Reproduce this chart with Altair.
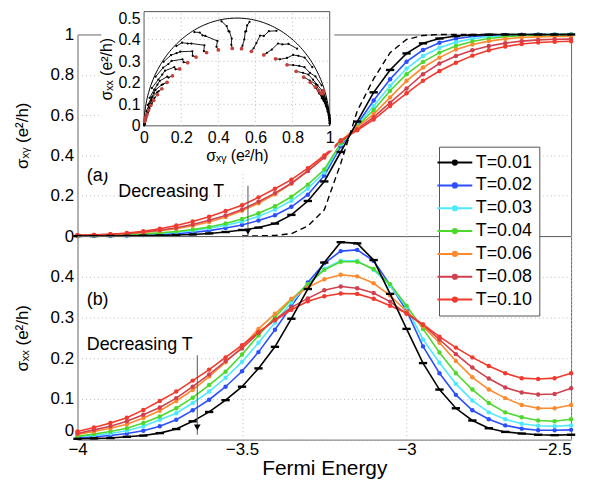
import altair as alt
import numpy as np
import pandas as pd

# ---------------- data ----------------
E = [-4.0, -3.95, -3.9, -3.85, -3.8, -3.75, -3.7, -3.65, -3.6, -3.55, -3.5,
     -3.45, -3.4, -3.35, -3.3, -3.25, -3.2, -3.15, -3.1, -3.05, -3.0,
     -2.95, -2.9, -2.85, -2.8, -2.75, -2.7, -2.65, -2.6, -2.55, -2.5]

T_LABELS = ["T=0.01", "T=0.02", "T=0.03", "T=0.04", "T=0.06", "T=0.08", "T=0.10"]
COLORS = ["#000000", "#2B4FFF", "#4FE9FF", "#4CD92B", "#FF8A2E", "#D0404E", "#F2392E"]

# sigma_xy (panel a)
SXY_001 = [0.0, 0.0, 0.0005, 0.001, 0.002, 0.003, 0.005, 0.008, 0.013, 0.02, 0.03, 0.042, 0.062, 0.105, 0.174, 0.271, 0.417,
           0.568, 0.713, 0.824, 0.906, 0.956, 0.98, 0.992, 0.997, 0.999, 1.0, 1.0, 1.0, 1.0, 1.0]
SXY_002 = [0.001, 0.001, 0.002, 0.003, 0.005, 0.008, 0.012, 0.018, 0.027, 0.04, 0.055, 0.077, 0.103, 0.145, 0.205, 0.30, 0.445,
           0.555, 0.672, 0.778, 0.865, 0.923, 0.959, 0.979, 0.99, 0.995, 0.998, 0.999, 1.0, 1.0, 1.0]
SXY_003 = [0.002, 0.003, 0.004, 0.006, 0.009, 0.013, 0.019, 0.027, 0.039, 0.053, 0.072, 0.098, 0.131, 0.175, 0.235, 0.315, 0.455,
           0.55, 0.645, 0.745, 0.831, 0.893, 0.934, 0.962, 0.979, 0.989, 0.994, 0.997, 0.999, 1.0, 1.0]
SXY_004 = [0.003, 0.004, 0.005, 0.008, 0.011, 0.016, 0.023, 0.032, 0.045, 0.062, 0.085, 0.113, 0.148, 0.195, 0.255, 0.33, 0.46,
           0.545, 0.625, 0.721, 0.803, 0.864, 0.91, 0.943, 0.965, 0.98, 0.989, 0.994, 0.997, 0.998, 0.999]
SXY_006 = [0.004, 0.006, 0.008, 0.012, 0.018, 0.026, 0.037, 0.051, 0.07, 0.095, 0.125, 0.163, 0.207, 0.26, 0.325, 0.395, 0.472,
           0.54, 0.605, 0.688, 0.77, 0.836, 0.885, 0.926, 0.95, 0.967, 0.978, 0.985, 0.988, 0.99, 0.99]
SXY_008 = [0.004, 0.006, 0.009, 0.013, 0.02, 0.029, 0.041, 0.057, 0.078, 0.102, 0.132, 0.17, 0.213, 0.262, 0.322, 0.39, 0.47,
           0.53, 0.59, 0.662, 0.732, 0.803, 0.856, 0.893, 0.922, 0.943, 0.957, 0.967, 0.973, 0.976, 0.977]
SXY_010 = [0.003, 0.005, 0.009, 0.015, 0.024, 0.036, 0.052, 0.072, 0.096, 0.124, 0.153, 0.192, 0.235, 0.28, 0.337, 0.40, 0.475,
           0.525, 0.578, 0.645, 0.708, 0.77, 0.819, 0.86, 0.895, 0.922, 0.94, 0.953, 0.96, 0.964, 0.966]

# dashed curve (panel a), from E=-3.5 on
E_DASH = E[10:]
SXY_DASH = [0.0, 0.001, 0.003, 0.012, 0.05, 0.13, 0.36, 0.62, 0.78, 0.91, 0.975, 0.995,
            1.0, 1.0, 1.0, 1.0, 1.0, 1.0, 1.0, 1.0, 1.0]

# sigma_xx (panel b)
SXX_001 = [0.002, 0.003, 0.004, 0.007, 0.010, 0.016, 0.026, 0.045, 0.068, 0.097, 0.130, 0.175, 0.228, 0.297, 0.370, 0.435,
           0.485, 0.482, 0.441, 0.358, 0.272, 0.188, 0.123, 0.077, 0.047, 0.028, 0.019, 0.015, 0.012, 0.011, 0.012]
SXX_002 = [0.004, 0.007, 0.010, 0.015, 0.022, 0.033, 0.049, 0.072, 0.098, 0.130, 0.168, 0.215, 0.270, 0.328, 0.386, 0.433,
           0.463, 0.466, 0.439, 0.380, 0.317, 0.229, 0.163, 0.110, 0.072, 0.050, 0.035, 0.027, 0.023, 0.023, 0.024]
SXX_003 = [0.007, 0.011, 0.015, 0.022, 0.033, 0.049, 0.065, 0.090, 0.118, 0.152, 0.191, 0.238, 0.287, 0.337, 0.382, 0.420,
           0.439, 0.439, 0.417, 0.378, 0.325, 0.246, 0.189, 0.137, 0.096, 0.067, 0.050, 0.039, 0.034, 0.033, 0.035]
SXX_004 = [0.008, 0.014, 0.020, 0.028, 0.041, 0.057, 0.077, 0.103, 0.134, 0.167, 0.209, 0.256, 0.301, 0.344, 0.382, 0.417,
           0.437, 0.437, 0.419, 0.382, 0.329, 0.272, 0.214, 0.163, 0.123, 0.090, 0.067, 0.055, 0.047, 0.045, 0.050]
SXX_006 = [0.013, 0.020, 0.028, 0.038, 0.053, 0.071, 0.095, 0.122, 0.155, 0.190, 0.228, 0.272, 0.309, 0.346, 0.374, 0.394,
           0.405, 0.401, 0.384, 0.354, 0.315, 0.278, 0.238, 0.193, 0.153, 0.123, 0.102, 0.085, 0.077, 0.077, 0.085]
SXX_008 = [0.015, 0.024, 0.033, 0.045, 0.061, 0.079, 0.102, 0.130, 0.160, 0.193, 0.224, 0.262, 0.295, 0.325, 0.347, 0.367,
           0.376, 0.372, 0.360, 0.339, 0.309, 0.282, 0.246, 0.210, 0.177, 0.150, 0.128, 0.116, 0.111, 0.112, 0.126]
SXX_010 = [0.020, 0.030, 0.041, 0.054, 0.073, 0.095, 0.118, 0.145, 0.172, 0.202, 0.232, 0.264, 0.293, 0.319, 0.340, 0.352,
           0.359, 0.358, 0.346, 0.329, 0.311, 0.283, 0.253, 0.226, 0.202, 0.181, 0.163, 0.151, 0.149, 0.151, 0.163]

SXY = [SXY_001, SXY_002, SXY_003, SXY_004, SXY_006, SXY_008, SXY_010]
SXX = [SXX_001, SXX_002, SXX_003, SXX_004, SXX_006, SXX_008, SXX_010]

# tick values
XA_GRID = [-3.5, -3]
XB_TICKS = [-4, -3.5, -3, -2.5]
YA_TICKS = [0, 0.2, 0.4, 0.6, 0.8, 1]
YB_TICKS = [0, 0.1, 0.2, 0.3, 0.4]
IX_TICKS = [0, 0.2, 0.4, 0.6, 0.8, 1]
IY_TICKS = [0, 0.1, 0.2, 0.3, 0.4, 0.5]

# annotations
ANN_A = {"label": ["(a)", "Decreasing T"], "E": [-3.972, -3.876], "v": [0.296, 0.217]}
ANN_B = {"label": ["(b)", "Decreasing T"], "E": [-3.972, -3.972], "v": [0.344, 0.232]}
ARROW_A = {"E": [-3.482], "top": [0.25], "bot": [0.0], "head": [0.022]}
ARROW_B = {"E": [-3.636], "top": [0.207], "bot": [0.012], "head": [0.03]}

# ---------------- tables ----------------
rows = []
for ti, lab in enumerate(T_LABELS):
    for k, e in enumerate(E):
        rows.append({"E": e, "T": lab, "ti": ti, "k": k, "sxy": SXY[ti][k], "sxx": SXX[ti][k]})
df = pd.DataFrame(rows)
df_col = df[df.ti > 0]
df_blk = df[df.ti == 0]
df_dash = pd.DataFrame({"E": E_DASH, "sxy": SXY_DASH})

# reference semicircle sxx^2 + (sxy - 1/2)^2 = 1/4 for the inset
th = np.linspace(0, np.pi, 121)
df_arc = pd.DataFrame({"i": np.arange(th.size), "ax": 0.5 - 0.5 * np.cos(th), "ay": 0.5 * np.sin(th)})

FONT = "Liberation Sans"
COLOR_SCALE = alt.Scale(domain=T_LABELS, range=COLORS)
LEGEND = alt.Legend(
    orient="none", legendX=364, legendY=113, title=None,
    symbolType="M-2.5,0L2.5,0M-0.3,0A0.3,0.3,0,1,1,0.3,0A0.3,0.3,0,1,1,-0.3,0",
    symbolSize=196, symbolStrokeWidth=2, labelFont=FONT, labelFontSize=18,
    labelColor="black", strokeColor="#555555", fillColor="white",
    padding=7, rowPadding=5, labelOffset=12, symbolOffset=0,
)

W = 497
H_A = 203
H_B = 205
XDOM = [-4, -2.5]


def xa(field, axis):
    return alt.X(field, type="quantitative", scale=alt.Scale(domain=XDOM, nice=False, zero=False), axis=axis)


AX_XA = alt.Axis(values=XA_GRID, labels=False, title=None, grid=True)
AX_XB = alt.Axis(values=XB_TICKS, format="~g", grid=True, title="Fermi Energy",
                 titleFontSize=21, labelPadding=2, titlePadding=0,
                 labelAlign={"condition": {"test": "datum.value > -2.6", "value": "right"}, "value": "center"})
AX_YA = alt.Axis(values=YA_TICKS, format="~g", title="σₓᵧ (e²/h)", titlePadding=19, labelPadding=4)
AX_YB = alt.Axis(values=YB_TICKS, format="~g", title="σₓₓ (e²/h)", titlePadding=19, labelPadding=4,
                 labelBaseline={"condition": {"test": "datum.value < 0.05", "value": "bottom"}, "value": "middle"})


def ya(field):
    return alt.Y(field, type="quantitative", scale=alt.Scale(domain=[0, 1], nice=False), axis=AX_YA)


def yb(field):
    return alt.Y(field, type="quantitative", scale=alt.Scale(domain=[0, 0.5], nice=False), axis=AX_YB)


def main_panel(yfun, yfield, xaxis, ann, arrow, with_legend, dashed):
    base_c = alt.Chart(df_col)
    lines = base_c.mark_line(strokeWidth=1.6).encode(
        x=xa("E", xaxis), y=yfun(yfield),
        color=alt.Color("T:N", scale=COLOR_SCALE, legend=LEGEND if with_legend else None),
        detail="T:N", order="k:Q")
    pts = base_c.mark_point(filled=True, size=20, opacity=1).encode(
        x=xa("E", xaxis), y=yfun(yfield),
        color=alt.Color("T:N", scale=COLOR_SCALE, legend=None))
    blk_line = alt.Chart(df_blk).mark_line(strokeWidth=1.6, color="black").encode(
        x=xa("E", xaxis), y=yfun(yfield), order="k:Q")
    blk_mark = alt.Chart(df_blk).mark_point(shape="M-1,0L1,0", size=70, strokeWidth=2.4,
                                             color="black", opacity=1).encode(
        x=xa("E", xaxis), y=yfun(yfield))
    adf = pd.DataFrame(ann)
    txt = alt.Chart(adf).mark_text(align="left", baseline="middle", font=FONT, fontSize=18,
                                   color="black").encode(
        x=xa("E", xaxis), y=yfun("v"), text="label:N")
    ardf = pd.DataFrame(arrow)
    ar_line = alt.Chart(ardf).mark_rule(color="#555555", strokeWidth=1).encode(
        x=xa("E", xaxis), y=yfun("top"), y2="bot")
    ar_head = alt.Chart(ardf).mark_point(shape="triangle-down", filled=True, size=45,
                                          color="black", opacity=1).encode(
        x=xa("E", xaxis), y=yfun("head"))
    layers = [lines, pts, blk_line, blk_mark]
    if dashed:
        layers.append(alt.Chart(df_dash).mark_line(strokeWidth=1.4, color="black", strokeDash=[6, 4]).encode(
            x=xa("E", xaxis), y=yfun("sxy"), order="E:Q"))
    layers += [ar_line, ar_head, txt]
    return alt.layer(*layers)


# ---------------- inset (c) ----------------
IX_SCALE = alt.Scale(domain=[0, 1], range=[67, 254], nice=False, zero=False)
IY_SCALE = alt.Scale(domain=[0, 0.53], range=[92, -23], nice=False, zero=False)
IX_AXIS = alt.Axis(orient="bottom", offset=-111, values=IX_TICKS, format="~g", grid=False,
                   title="σₓᵧ (e²/h)", labelFontSize=16, titleFontSize=16, labelPadding=4, titlePadding=2,
                   zindex=1, labelFlush=False, labelOverlap=False)
IY_AXIS = alt.Axis(orient="left", offset=-67, values=IY_TICKS, format="~g", grid=False,
                   title="σₓₓ (e²/h)", labelFontSize=16, titleFontSize=16, labelPadding=4, titlePadding=4,
                   zindex=1, labelOverlap=False)


def ix(field):
    return alt.X(field, type="quantitative", scale=IX_SCALE, axis=IX_AXIS)


def iy(field):
    return alt.Y(field, type="quantitative", scale=IY_SCALE, axis=IY_AXIS)


bg = pd.DataFrame({"x0": [-0.23, -0.23], "x1": [1.025, 0.72], "y0": [-0.115, -0.215], "y1": [0.53, -0.11]})
frame = pd.DataFrame({"x0": [0.0], "x1": [1.0], "y0": [0.0], "y1": [0.53]})
gx = pd.DataFrame({"g": IX_TICKS[1:-1], "y0": 0.0, "y1": 0.53})
gy = pd.DataFrame({"g": IY_TICKS[1:], "x0": 0.0, "x1": 1.0})

inset = alt.layer(
    alt.Chart(bg).mark_rect(fill="white").encode(x=ix("x0"), x2="x1", y=iy("y0"), y2="y1"),
    alt.Chart(frame).mark_rect(fill="white", stroke="#555555", strokeWidth=1).encode(
        x=ix("x0"), x2="x1", y=iy("y0"), y2="y1"),
    alt.Chart(gx).mark_rule(color="#bbbbbb", strokeDash=[1, 3], strokeWidth=1).encode(
        x=ix("g"), y=iy("y0"), y2="y1"),
    alt.Chart(gy).mark_rule(color="#bbbbbb", strokeDash=[1, 3], strokeWidth=1).encode(
        y=iy("g"), x=ix("x0"), x2="x1"),
    alt.Chart(df_arc).mark_line(color="black", strokeWidth=1).encode(x=ix("ax"), y=iy("ay"), order="i:Q"),
    alt.Chart(df).mark_line(color="black", strokeWidth=0.9).encode(
        x=ix("sxy"), y=iy("sxx"), detail="k:N", order="ti:Q"),
    alt.Chart(df[df.ti < 6]).mark_circle(color="black", size=5, opacity=1).encode(x=ix("sxy"), y=iy("sxx")),
    alt.Chart(df[df.ti == 6]).mark_circle(color="#C8403A", size=14, opacity=1).encode(x=ix("sxy"), y=iy("sxx")),
)

panel_a = alt.layer(
    main_panel(ya, "sxy", AX_XA, ANN_A, ARROW_A, True, True),
    inset,
).resolve_scale(x="independent", y="independent").properties(width=W, height=H_A)

panel_b = main_panel(yb, "sxx", AX_XB, ANN_B, ARROW_B, False, False).properties(width=W, height=H_B)

chart = alt.vconcat(panel_a, panel_b, spacing=0, bounds="flush").properties(
    padding={"left": 4, "top": 0, "right": 0, "bottom": 0}
).configure_view(
    stroke="#666666", strokeWidth=1
).configure_axis(
    labelFont=FONT, titleFont=FONT, labelFontSize=17, titleFontSize=17, labelColor="black",
    titleColor="black", titleFontWeight="normal", domain=False, ticks=False,
    gridColor="#bbbbbb", gridDash=[1, 3], gridWidth=1
)

chart.save("out.html", embed_options={"renderer": "svg", "actions": False})
